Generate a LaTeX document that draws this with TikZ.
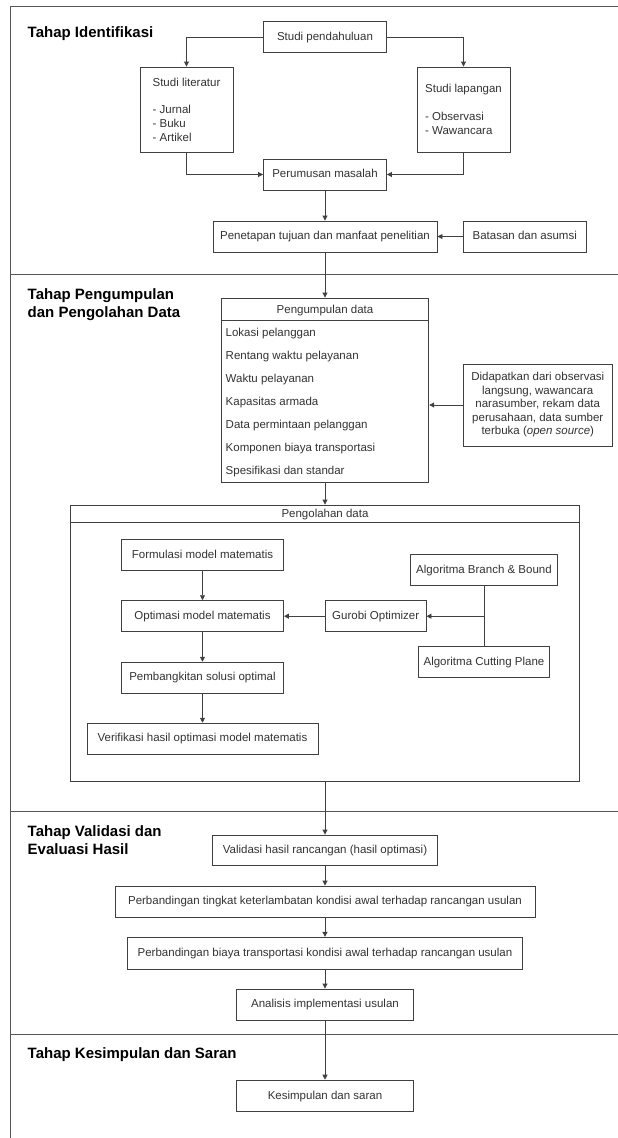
\documentclass[tikz,border=0pt]{standalone}
\usepackage{fontspec}
\setmainfont{Liberation Sans}
\usetikzlibrary{arrows.meta,calc}
\definecolor{linec}{HTML}{404040}
\definecolor{txtc}{HTML}{333333}
\definecolor{framec}{HTML}{555555}
\begin{document}
\begin{tikzpicture}[x=1pt,y=-1pt,
  box/.style={draw=linec,line width=0.9pt,inner sep=0pt,minimum height=31pt,
    font=\fontsize{11.5}{13.8}\selectfont,text=txtc,text height=8.5pt,text depth=2.5pt},
  mbox/.style={draw=linec,line width=0.9pt,inner sep=0pt,
    font=\fontsize{11.5}{13.8}\selectfont,text=txtc},
  txt/.style={inner sep=0pt,font=\fontsize{11.5}{13.8}\selectfont,text=txtc,text height=8.5pt,text depth=2.5pt},
  item/.style={txt,anchor=west},
  arr/.style={draw=linec,line width=0.9pt,-{Triangle[length=5pt,width=5pt]}},
  ln/.style={draw=linec,line width=0.9pt},
  frameline/.style={draw=framec,line width=1pt},
  stage/.style={font=\fontsize{15}{18}\selectfont\bfseries,text=black,
    anchor=west,align=left,inner sep=0pt}]
\useasboundingbox[fill=white] (0,0) rectangle (618,1138);

% frame and dividers
\draw[frameline] (618,6) -- (10,6) -- (10,1138);
\draw[frameline] (10,274.5) -- (618,274.5);
\draw[frameline] (10,811.5) -- (618,811.5);
\draw[frameline] (10,1034.5) -- (618,1034.5);

% stage titles
\node[stage] (t1) at (27.5,34) {Tahap Identifikasi};
\node[stage] (t2) at (27.5,305) {Tahap Pengumpulan\\dan Pengolahan Data};
\node[stage] (t3) at (27.5,840.5) {Tahap Validasi dan\\Evaluasi Hasil};
\node[stage] (t4) at (27.5,1055) {Tahap Kesimpulan dan Saran};

% stage 1
\node[box,minimum width=123pt] (pend) at (325,37) {Studi pendahuluan};
\node[mbox,minimum width=93pt,minimum height=85pt,align=left] (lit) at (186.5,109.5)
  {Studi literatur\\\strut\\- Jurnal\\- Buku\\- Artikel};
\node[mbox,minimum width=93pt,minimum height=85pt,align=left] (lap) at (463.5,109.5)
  {Studi lapangan\\\strut\\- Observasi\\- Wawancara};
\node[box,minimum width=123pt] (per) at (325,174.5) {Perumusan masalah};
\node[box,minimum width=224pt] (pen) at (325,236.5) {Penetapan tujuan dan manfaat penelitian};
\node[box,minimum width=122.5pt] (bat) at (524.75,236.5) {Batasan dan asumsi};

\draw[arr] (pend.west) -| (lit.north);
\draw[arr] (pend.east) -| (lap.north);
\draw[arr] (lit.south) |- (per.west);
\draw[arr] (lap.south) |- (per.east);
\draw[arr] (per.south) -- (pen.north);
\draw[arr] (bat.west) -- (pen.east);

% stage 2 - pengumpulan
\node[draw=linec,line width=0.9pt,minimum width=207.5pt,minimum height=184pt,inner sep=0pt] (pgd) at (325,390) {};
\draw[ln] ([yshift=-23pt]pgd.north west) -- ([yshift=-23pt]pgd.north east);
\node[txt] (pgdh) at (325,310) {Pengumpulan data};
\node[item] (i1) at (225.5,333) {Lokasi pelanggan};
\node[item] (i2) at (225.5,356) {Rentang waktu pelayanan};
\node[item] (i3) at (225.5,379) {Waktu pelayanan};
\node[item] (i4) at (225.5,402) {Kapasitas armada};
\node[item] (i5) at (225.5,425) {Data permintaan pelanggan};
\node[item] (i6) at (225.5,448) {Komponen biaya transportasi};
\node[item] (i7) at (225.5,471) {Spesifikasi dan standar};

\node[mbox,align=center,minimum width=148.5pt,minimum height=82pt,font=\fontsize{11.5}{13.5}\selectfont] (did) at (537.75,405)
  {Didapatkan dari observasi\\langsung, wawancara\\narasumber, rekam data\\perusahaan, data sumber\\terbuka (\textit{open source})};

\draw[arr] (pen.south) -- (pgd.north);
\draw[arr] (did.west) -- (did.west -| pgd.east);

% pengolahan
\node[draw=linec,line width=0.9pt,minimum width=508.6pt,minimum height=276pt,inner sep=0pt] (pol) at (325,643) {};
\draw[ln] ([yshift=-17.7pt]pol.north west) -- ([yshift=-17.7pt]pol.north east);
\node[txt] (polh) at (325,514) {Pengolahan data};
\draw[arr] (pgd.south) -- (pol.north);

\node[box,minimum width=162pt] (form) at (202.5,555) {Formulasi model matematis};
\node[box,minimum width=162pt] (opt) at (202.5,616.2) {Optimasi model matematis};
\node[box,minimum width=162pt] (pemb) at (202.5,677.7) {Pembangkitan solusi optimal};
\node[box,minimum width=231pt] (ver) at (202.5,738.7) {Verifikasi hasil optimasi model matematis};
\node[box,minimum width=100.6pt] (gur) at (375.7,616.2) {Gurobi Optimizer};
\node[box,minimum width=146.8pt] (bb) at (484,570.2) {Algoritma Branch \& Bound};
\node[box,minimum width=131pt] (cp) at (484,662.2) {Algoritma Cutting Plane};

\draw[arr] (form.south) -- (opt.north);
\draw[arr] (opt.south) -- (pemb.north);
\draw[arr] (pemb.south) -- (ver.north);
\draw[arr] (gur.west) -- (opt.east);
\draw[ln] (bb.south) -- (cp.north);
\coordinate (j) at (bb.south |- gur.east);
\draw[arr] (j) -- (gur.east);

% stage 3
\node[box,minimum width=225pt,minimum height=30pt] (val) at (325,850) {Validasi hasil rancangan (hasil optimasi)};
\node[box,minimum width=420pt] (ting) at (325,901.5) {Perbandingan tingkat keterlambatan kondisi awal terhadap rancangan usulan};
\node[box,minimum width=394.3pt,minimum height=32pt] (biaya) at (325,953.3) {Perbandingan biaya transportasi kondisi awal terhadap rancangan usulan};
\node[box,minimum width=176.5pt] (anal) at (325,1004.5) {Analisis implementasi usulan};
\node[box,minimum width=176.5pt,minimum height=31.7pt] (kes) at (325,1096) {Kesimpulan dan saran};

\draw[arr] (pol.south) -- (val.north);
\draw[arr] (val.south) -- (ting.north);
\draw[arr] (ting.south) -- (biaya.north);
\draw[arr] (biaya.south) -- (anal.north);
\draw[arr] (anal.south) -- (kes.north);
\end{tikzpicture}
\end{document}
